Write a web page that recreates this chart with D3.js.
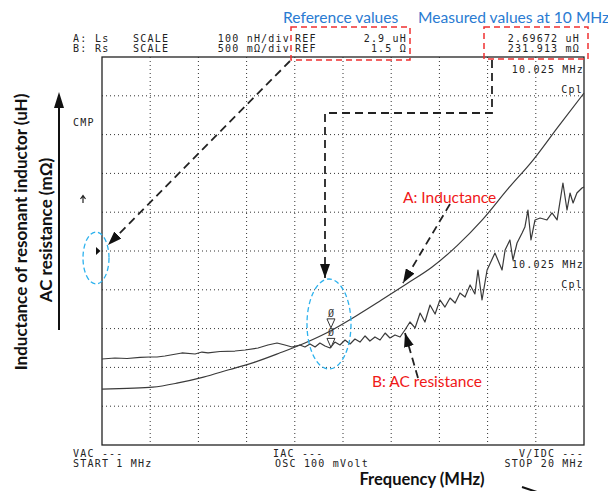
<!DOCTYPE html>
<html><head><meta charset="utf-8">
<script src="https://cdn.jsdelivr.net/npm/d3@7"></script>
<style>
body{margin:0;background:#fff}
svg{display:block}
.mono{font-family:"DejaVu Sans Mono",monospace;font-size:10px;letter-spacing:1.2px;fill:#222}
</style>
</head><body><script>
// ---- data ----
const startFreq = 1, stopFreq = 20;          // MHz
const refL = 2.9, scaleL = 0.1;              // uH, uH/div
const refR = 1500, scaleR = 500;             // mOhm, mOhm/div
const markerFreq = 10.025;                   // MHz
const measL = 2.69672, measR = 231.913;

const freqL = [1,2,3,4,5,6,7,8,9,10,11,12,13,14,15,16,17,18,19,20];
const inductance = [2.544,2.546,2.549,2.560,2.575,2.594,2.613,2.637,2.663,2.694,2.732,2.773,2.815,2.858,2.914,2.981,3.060,3.135,3.222,3.307];

const freqR = [1.00,1.51,1.99,2.50,2.89,3.17,3.48,4.15,4.67,4.94,5.18,5.65,6.24,6.64,7.15,7.54,7.90,8.21,8.49,8.80,9.00,9.20,9.40,9.59,9.79,9.99,10.18,10.38,10.58,10.78,10.97,11.17,11.37,11.56,11.76,11.96,12.16,12.35,12.55,12.75,12.94,13.14,13.34,13.54,13.73,13.93,14.13,14.32,14.52,14.72,14.92,15.11,15.31,15.51,15.70,15.82,15.98,16.18,16.49,16.77,16.89,17.08,17.20,17.36,17.56,17.67,17.79,17.91,18.07,18.27,18.54,18.74,18.94,19.17,19.33,19.45,19.57,19.72,19.92,20.00];
const resistance = [108,121,115,128,134,134,147,186,173,198,186,205,211,224,250,289,314,289,263,289,263,302,263,314,276,250,327,289,353,302,366,327,405,340,392,353,443,379,418,392,482,585,508,701,585,804,688,869,778,894,830,959,907,1062,946,1255,869,1255,1474,1255,1513,1642,1384,1603,1732,1809,2028,1642,1900,1925,1900,1990,1900,2376,2028,2247,2119,2247,2312,2325];

const headerA = ["A:", "Ls", "SCALE", "100 nH/div", "REF", "2.9 uH", "2.69672 uH"];
const headerB = ["B:", "Rs", "SCALE", "500 m\u03A9/div", "REF", "1.5 \u03A9", "231.913 m\u03A9"];

// ---- layout ----
const W = 608, H = 491;
const X0 = 102, X1 = 584, Y0 = 57, Y1 = 445;
const svg = d3.select("body").append("svg").attr("width", W).attr("height", H);

const x = d3.scaleLinear().domain([startFreq, stopFreq]).range([X0, X1]);
const yL = d3.scaleLinear().domain([refL - 5*scaleL, refL + 5*scaleL]).range([Y1, Y0]);
const yR = d3.scaleLinear().domain([refR - 5*scaleR, refR + 5*scaleR]).range([Y1, Y0]);

// grid (10 x 10 divisions)
const divs = d3.range(1, 10);
const g = svg.append("g");
g.selectAll(".vg").data(divs).join("line")
  .attr("x1", d => x(startFreq + d*(stopFreq-startFreq)/10)).attr("x2", d => x(startFreq + d*(stopFreq-startFreq)/10))
  .attr("y1", Y0).attr("y2", Y1)
  .attr("stroke", "#333").attr("stroke-width", 1).attr("stroke-dasharray", "1,3");
g.selectAll(".hg").data(divs).join("line")
  .attr("y1", d => yL(refL - 5*scaleL + d*scaleL)).attr("y2", d => yL(refL - 5*scaleL + d*scaleL))
  .attr("x1", X0).attr("x2", X1)
  .attr("stroke", "#333").attr("stroke-width", 1).attr("stroke-dasharray", "1,3");
svg.append("rect").attr("x", X0).attr("y", Y0).attr("width", X1-X0).attr("height", Y1-Y0)
  .attr("fill", "none").attr("stroke", "#222").attr("stroke-width", 1.3);

// traces
const lineL = d3.line().x((d,i) => x(freqL[i])).y(d => yL(d)).curve(d3.curveMonotoneX);
svg.append("path").datum(inductance).attr("d", lineL)
  .attr("fill", "none").attr("stroke", "#3a3a3a").attr("stroke-width", 1.2);
const lineR = d3.line().x((d,i) => x(freqR[i])).y(d => yR(d));
svg.append("path").datum(resistance).attr("d", lineR)
  .attr("fill", "none").attr("stroke", "#3a3a3a").attr("stroke-width", 1.2).attr("stroke-linejoin", "round");

// markers at 10.025 MHz
const mx = x(markerFreq);
[yL(measL) - 2, yR(measR) - 2].forEach(tip => {
  svg.append("path").attr("d", `M${mx-4},${tip-9}L${mx+4},${tip-9}L${mx},${tip}Z`)
    .attr("fill", "#fff").attr("stroke", "#333").attr("stroke-width", 1);
  svg.append("text").attr("x", mx).attr("y", tip - 11).attr("text-anchor", "middle")
    .attr("font-family", "DejaVu Sans Mono").attr("font-size", 10).attr("fill", "#333").text("\u00D8");
});
// reference marker
const ry = yL(refL);
svg.append("path").attr("d", `M${X0-6},${ry-4}L${X0-1.5},${ry}L${X0-6},${ry+4}Z`).attr("fill", "#111");
// small up arrow
svg.append("path").attr("d", "M83,203L83,196M80.5,199L83,195.5L85.5,199").attr("fill", "none").attr("stroke", "#222").attr("stroke-width", 1.2);

// monospace instrument text
function mono(t, xx, yy, anchor) {
  svg.append("text").attr("class", "mono").attr("x", xx).attr("y", yy)
    .attr("text-anchor", anchor || "start").text(t);
}
[[headerA, 41.5], [headerB, 52]].forEach(([h, yy]) => {
  mono(h[0], 73, yy); mono(h[1], 95, yy); mono(h[2], 133, yy);
  mono(h[3], 290, yy, "end"); mono(h[4], 295, yy);
  mono(h[5], 407, yy, "end"); mono(h[6], 580, yy, "end");
});
mono("CMP", 73, 126);
mono(markerFreq.toFixed(3) + " MHz", 584, 73, "end");
mono("Cpl", 583, 93, "end");
mono(markerFreq.toFixed(3) + " MHz", 584, 268, "end");
mono("Cpl", 583, 288, "end");
mono("VAC ---", 73, 457);
mono("START " + startFreq + " MHz", 73, 467);
mono("IAC ---", 273, 457);
mono("OSC 100 mVolt", 275, 467);
mono("V/IDC ---", 584, 457, "end");
mono("STOP " + stopFreq + " MHz", 584, 467, "end");

// red dashed boxes
[[291, 27, 119, 33], [484, 27, 104, 32]].forEach(([bx, by, bw, bh]) => {
  svg.append("rect").attr("x", bx).attr("y", by).attr("width", bw).attr("height", bh)
    .attr("fill", "none").attr("stroke", "#f03030").attr("stroke-width", 1.5).attr("stroke-dasharray", "6,4");
});

// blue labels
svg.append("text").attr("x", 283).attr("y", 23).attr("font-family", "Lato").attr("font-size", 15.6)
  .attr("fill", "#2a7bd2").text("Reference values");
svg.append("text").attr("x", 418).attr("y", 23).attr("font-family", "Lato").attr("font-size", 15.6)
  .attr("fill", "#2a7bd2").text("Measured values at 10 MHz");

// blue dashed ellipses
[[96, 258, 13, 26], [329, 324, 22, 45]].forEach(([cx, cy, rx, ryy]) => {
  svg.append("ellipse").attr("cx", cx).attr("cy", cy).attr("rx", rx).attr("ry", ryy)
    .attr("fill", "none").attr("stroke", "#2db2ee").attr("stroke-width", 1.3).attr("stroke-dasharray", "5,3");
});

// arrow marker
svg.append("defs").append("marker").attr("id", "ah").attr("markerUnits", "userSpaceOnUse")
  .attr("markerWidth", 14).attr("markerHeight", 10).attr("refX", 14).attr("refY", 5).attr("orient", "auto")
  .append("path").attr("d", "M0,0L14,5L0,10Z").attr("fill", "#111").attr("stroke", "none");
function darrow(d) {
  svg.append("path").attr("d", d).attr("fill", "none").attr("stroke", "#222").attr("stroke-width", 1.8)
    .attr("stroke-dasharray", "8,5").attr("marker-end", "url(#ah)");
}
darrow("M290,61L108,245");
darrow("M492,60L492,113L325,113L325,278");
darrow("M450,204L403,283");
darrow("M418,378L405,333");

// red annotation labels
svg.append("text").attr("x", 403).attr("y", 203).attr("font-family", "Lato").attr("font-size", 15.5)
  .attr("fill", "#f01818").text("A: Inductance");
svg.append("text").attr("x", 372).attr("y", 387).attr("font-family", "Lato").attr("font-size", 15.5)
  .attr("fill", "#f01818").text("B: AC resistance");

// axis titles
svg.append("text").attr("transform", "translate(20,232) rotate(-90)").attr("text-anchor", "middle")
  .attr("dominant-baseline", "central").attr("font-family", "Lato").attr("font-weight", "bold")
  .attr("font-size", 17).attr("fill", "#111").text("Inductance of resonant inductor (uH)");
svg.append("text").attr("transform", "translate(45,230) rotate(-90)").attr("text-anchor", "middle")
  .attr("dominant-baseline", "central").attr("font-family", "Lato").attr("font-weight", "bold")
  .attr("font-size", 17).attr("fill", "#111").text("AC resistance (m\u03A9)");
svg.append("line").attr("x1", 59).attr("x2", 59).attr("y1", 330).attr("y2", 104)
  .attr("stroke", "#111").attr("stroke-width", 2);
svg.append("path").attr("d", "M59,92L54,108L64,108Z").attr("fill", "#111");

svg.append("text").attr("x", 422).attr("y", 485).attr("text-anchor", "middle")
  .attr("font-family", "Lato").attr("font-weight", "bold").attr("font-size", 16.5)
  .attr("fill", "#111").text("Frequency (MHz)");
svg.append("path").attr("d", "M522,487L540,493").attr("stroke", "#111").attr("stroke-width", 2);
</script></body></html>
